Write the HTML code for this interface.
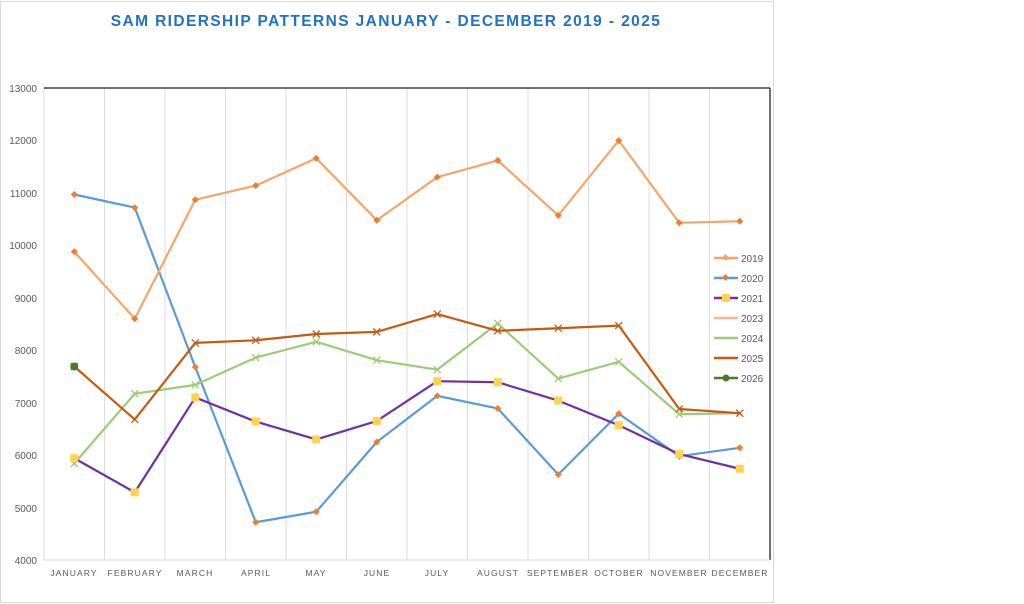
<!DOCTYPE html>
<html><head><meta charset="utf-8"><style>
html,body{margin:0;padding:0;background:#fff;width:1024px;height:604px;overflow:hidden}
svg{display:block;font-family:"Liberation Sans",sans-serif}
</style></head><body>
<svg id="s" width="1024" height="604" viewBox="0 0 1024 604">
<rect x="0.5" y="1.5" width="773" height="601" fill="#fff" stroke="#d9d9d9"/>
<text x="386" y="26" text-anchor="middle" font-size="15.5" font-weight="bold" fill="#1f72c4" letter-spacing="1.4">SAM RIDERSHIP PATTERNS JANUARY - DECEMBER 2019 - 2025</text>
<g id="grid" stroke="#dcdce4" stroke-width="1"></g>
<line x1="44" y1="88" x2="770" y2="88" stroke="#404040" stroke-width="1.5"/>
<line x1="770" y1="88" x2="770" y2="560" stroke="#404040" stroke-width="1.5"/>
<line x1="44" y1="560" x2="770" y2="560" stroke="#d9d9d9"/>
<g font-size="10" fill="#595959" text-anchor="end">
<text x="37" y="92">13000</text><text x="37" y="144">12000</text><text x="37" y="197">11000</text><text x="37" y="249">10000</text><text x="37" y="302">9000</text><text x="37" y="354">8000</text><text x="37" y="407">7000</text><text x="37" y="459">6000</text><text x="37" y="512">5000</text><text x="37" y="564">4000</text>
</g>
<g font-size="8.5" fill="#595959" text-anchor="middle" letter-spacing="1.1">
<text x="74" y="576">JANUARY</text><text x="135" y="576">FEBRUARY</text><text x="195" y="576">MARCH</text><text x="256" y="576">APRIL</text><text x="316" y="576">MAY</text><text x="377" y="576">JUNE</text><text x="437" y="576">JULY</text><text x="498" y="576">AUGUST</text><text x="558" y="576">SEPTEMBER</text><text x="619" y="576">OCTOBER</text><text x="679" y="576">NOVEMBER</text><text x="740" y="576">DECEMBER</text>
</g>
<g id="series"></g>
<g font-size="10" fill="#595959">
<line x1="714" y1="258" x2="738" y2="258" stroke="#f4a56b" stroke-width="2.5"/><rect x="723" y="255" width="5" height="5" fill="#f4a56b" transform="rotate(45 725.5 257.5)"/><text x="741" y="262">2019</text>
<line x1="714" y1="278" x2="738" y2="278" stroke="#5b9bd5" stroke-width="2.5"/><rect x="723" y="275" width="5" height="5" fill="#ed7d31" transform="rotate(45 725.5 277.5)"/><text x="741" y="282">2020</text>
<line x1="714" y1="298" x2="738" y2="298" stroke="#7030a0" stroke-width="2.5"/><rect x="722" y="294" width="8" height="8" fill="#ffd34d"/><text x="741" y="302">2021</text>
<line x1="714" y1="318" x2="738" y2="318" stroke="#f8b88c" stroke-width="2.5"/><text x="741" y="322">2023</text>
<line x1="714" y1="338" x2="738" y2="338" stroke="#9bcc78" stroke-width="2.5"/><text x="741" y="342">2024</text>
<line x1="714" y1="358" x2="738" y2="358" stroke="#c55a11" stroke-width="2.5"/><text x="741" y="362">2025</text>
<line x1="714" y1="378" x2="738" y2="378" stroke="#4b7a2c" stroke-width="2.5"/><circle cx="726" cy="378" r="3.5" fill="#4b7a2c"/><text x="741" y="382">2026</text>
</g>
</svg>
<script>
var NS="http://www.w3.org/2000/svg";
function el(t,a,p){var e=document.createElementNS(NS,t);for(var k in a)e.setAttribute(k,a[k]);p.appendChild(e);return e;}
var g=document.getElementById("grid");
for(var k=0;k<=11;k++){var x=44+60.5*k;el("line",{x1:x,y1:88,x2:x,y2:560},g);}
function X(i){return 74.25+60.5*i}function Y(v){return 560-(v-4000)*0.05244}
var S=document.getElementById("series");
var data=[
{c:"#5b9bd5",m:"dia",mc:"#ed7d31",v:[10970,10720,7680,4720,4920,6250,7130,6890,5630,6790,5980,6140]},
{c:"#f4a56b",m:"dia",mc:"#ed7d31",v:[9880,8600,10870,11140,11660,10480,11300,11620,10570,12000,10430,10460]},
{c:"#9bcc78",m:"x",mc:"#9bcc78",v:[5840,7170,7340,7860,8160,7810,7630,8510,7460,7780,6780,6800]},
{c:"#7030a0",m:"sq",mc:"#ffd34d",v:[5940,5290,7100,6640,6300,6650,7410,7390,7040,6570,6020,5740]},
{c:"#c55a11",m:"x",mc:"#c55a11",v:[7690,6680,8140,8190,8310,8350,8690,8370,8420,8470,6880,6800]}
];
data.forEach(function(d){
 var pts=d.v.map(function(v,i){return X(i)+","+Y(v)}).join(" ");
 el("polyline",{points:pts,fill:"none",stroke:d.c,"stroke-width":2.2,"stroke-linejoin":"round"},S);
 d.v.forEach(function(v,i){var x=X(i),y=Y(v);
  if(d.m=="dia")el("rect",{x:x-2.5,y:y-2.5,width:5,height:5,fill:d.mc,transform:"rotate(45 "+x+" "+y+")"},S);
  else if(d.m=="sq")el("rect",{x:x-4,y:y-4,width:8,height:8,fill:d.mc},S);
  else el("path",{d:"M"+(x-3.5)+" "+(y-3.5)+"L"+(x+3.5)+" "+(y+3.5)+"M"+(x-3.5)+" "+(y+3.5)+"L"+(x+3.5)+" "+(y-3.5),stroke:d.mc,"stroke-width":1.3},S);
 });
});
el("circle",{cx:X(0),cy:Y(7690),r:4,fill:"#4b7a2c"},S);
</script>
</body></html>
